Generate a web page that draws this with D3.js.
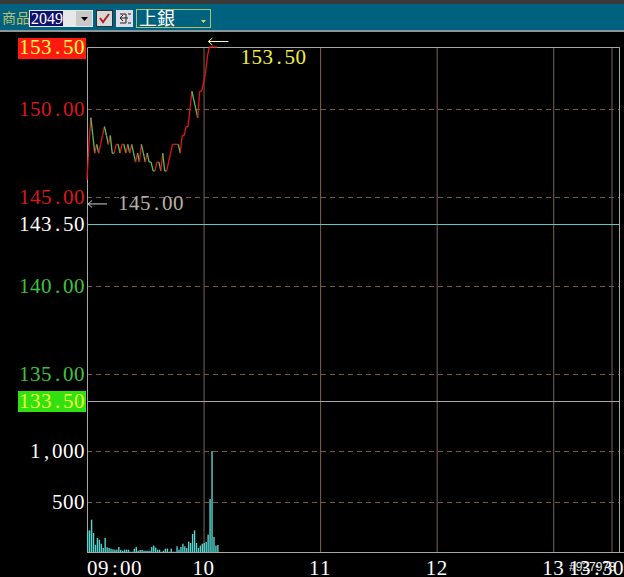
<!DOCTYPE html>
<html>
<head>
<meta charset="utf-8">
<script src="https://cdn.jsdelivr.net/npm/d3@7"></script>
<style>
html, body { margin: 0; padding: 0; background: #000; overflow: hidden; }
svg { display: block; }
</style>
</head>
<body>
<div id="chart"></div>
<script>
// one price and one volume per minute, starting 09:00
const prices = [146, 148, 149.5, 148.5, 147.5, 148, 147.5, 148, 148.5, 149,
    148.5, 148, 148.5, 147.5, 147.5, 148, 148, 147.5, 148, 148,
    147.5, 148, 147.5, 148, 147.5, 147, 147.5, 147, 148, 147.5,
    147, 147.5, 147, 147, 146.5, 146.5, 147, 147, 146.5, 147.5,
    146.5, 146.5, 147, 147.5, 148, 148, 148, 148, 147.5, 148.5,
    148.5, 149, 149, 150, 151, 150.5, 150, 149.5, 151, 151,
    151.5, 152, 153, 153.5, 153.5, 153.5, 153.5, 153.5];
const volumes = [214, 214, 320, 188, 72, 138, 122, 82, 40, 138,
    46, 40, 33, 26, 23, 23, 50, 20, 13, 23,
    23, 23, 3, 3, 33, 50, 13, 20, 20, 13,
    13, 13, 13, 50, 63, 43, 23, 23, 3, 13,
    33, 33, 3, 33, 3, 3, 56, 23, 50, 82,
    56, 40, 102, 89, 178, 214, 89, 40, 63, 82,
    89, 100, 172, 525, 1000, 148, 63, 70];
const priceTicks = [150, 145, 140, 135];
const volumeTicks = [1000, 500];
const refPrice = 143.5, highLimit = 153.5, lowLimit = 133.5, lowPrice = 145;
const hourTicks = [10, 11, 12, 13];

const width = 624, height = 577;
const font = "'Liberation Serif', serif";

const svg = d3.select("#chart").append("svg")
    .attr("width", width).attr("height", height)
    .attr("viewBox", [0, 0, width, height]);

const t0 = new Date(2000, 0, 1, 9, 0);
const at = (h, m) => new Date(2000, 0, 1, h, m);
const minute = i => d3.timeMinute.offset(t0, i);

// 09:00 at the left frame, 13:30 on the last grid line
const x = d3.scaleTime().domain([t0, at(13, 30)]).range([87, 611.5]);
const y = d3.scaleLinear().domain([lowLimit, highLimit]).range([401, 47]);
const yVol = d3.scaleLinear().domain([0, 1000]).range([552, 451]);

// writes text with every character in a fixed cell, like the terminal font
function label(txt, xEnd, yMid, color, size = 21, cell = 11) {
    const xs = Array.from(txt, (c, i) =>
        xEnd - cell * (txt.length - i) + (".,:".includes(c) ? 3 : 0));
    return svg.append("text")
        .text(txt)
        .attr("x", xs.join(" "))
        .attr("y", yMid + 7)
        .attr("font-family", font)
        .attr("font-size", size)
        .attr("fill", color);
}

// toolbar
svg.append("rect").attr("width", width).attr("height", 4).attr("fill", "#3a3a3a");
svg.append("rect").attr("y", 4).attr("width", width).attr("height", 26).attr("fill", "#00627f");
svg.append("rect").attr("y", 30).attr("width", width).attr("height", 2).attr("fill", "#8c9698");

svg.append("text").text("商品")
    .attr("x", 2).attr("y", 23)
    .attr("font-family", "'Noto Sans CJK TC'").attr("font-size", 14).attr("fill", "#b8c070");

svg.append("rect").attr("x", 29).attr("y", 10).attr("width", 64).attr("height", 17).attr("fill", "#e8e8e8");
svg.append("rect").attr("x", 30).attr("y", 11).attr("width", 33).attr("height", 15).attr("fill", "#101070");
svg.append("text").text("2049")
    .attr("x", 31).attr("y", 24)
    .attr("font-family", font).attr("font-size", 16).attr("fill", "#fff");
svg.append("rect").attr("x", 76).attr("y", 11).attr("width", 16).attr("height", 15).attr("fill", "#c8c8c8");
svg.append("path").attr("d", "M81 17h7l-3.5 4z").attr("fill", "#000");

svg.append("rect").attr("x", 96.5).attr("y", 10.5).attr("width", 16).attr("height", 16)
    .attr("fill", "#d8d8d8").attr("stroke", "#303030");
svg.append("path").attr("d", "M100 18l3 4 6-8").attr("fill", "none")
    .attr("stroke", "#b02020").attr("stroke-width", 2);
svg.append("rect").attr("x", 116).attr("y", 10).attr("width", 17).attr("height", 17).attr("fill", "#e0dce8");
svg.append("path").attr("d", "M120 14h6v9h-6M128 18h-8M123 15l-3 3 3 3M128 14h3M128 23h3")
    .attr("fill", "none").attr("stroke", "#202020");

svg.append("rect").attr("x", 136.5).attr("y", 9.5).attr("width", 74).attr("height", 18)
    .attr("fill", "none").attr("stroke", "#b0c070");
svg.append("text").text("上銀")
    .attr("x", 139).attr("y", 25)
    .attr("font-family", "'Noto Sans CJK TC'").attr("font-size", 18).attr("fill", "#fff");
svg.append("path").attr("d", "M201 20h5l-2.5 3z").attr("fill", "#d8d860");

// grid
const gridColor = "#7d6350", dashColor = "#75584a";
svg.append("g").selectAll("line")
    .data(hourTicks.map(h => at(h, 0)).concat([at(13, 30)]))
    .join("line")
    .attr("x1", d => x(d) + 0.5).attr("x2", d => x(d) + 0.5)
    .attr("y1", 47).attr("y2", 552)
    .attr("stroke", gridColor);

const dashes = priceTicks.map(y).concat(volumeTicks.map(yVol));
svg.append("g").selectAll("line")
    .data(dashes)
    .join("line")
    .attr("x1", 87).attr("x2", 619)
    .attr("y1", d => Math.round(d) + 0.5).attr("y2", d => Math.round(d) + 0.5)
    .attr("stroke", dashColor).attr("stroke-dasharray", "5,4");

// frame and limit lines
const frameColor = "#a8a8a8";
svg.append("path")
    .attr("d", "M87.5 552V47.5H619.5V552")
    .attr("fill", "none").attr("stroke", frameColor);
svg.append("line").attr("x1", 87).attr("x2", 624).attr("y1", 552.5).attr("y2", 552.5).attr("stroke", frameColor);
svg.append("line").attr("x1", 87).attr("x2", 619).attr("y1", y(lowLimit) + 0.5).attr("y2", y(lowLimit) + 0.5).attr("stroke", frameColor);
svg.append("line").attr("x1", 87).attr("x2", 619).attr("y1", y(refPrice) + 0.5).attr("y2", y(refPrice) + 0.5).attr("stroke", "#5fc8c0");

// price line, red going up and green going down
let trend = "#e01818";
prices.slice(1).forEach((p, i) => {
    if (p > prices[i]) trend = "#e01818";
    if (p < prices[i]) trend = "#58c058";
    svg.append("line")
        .attr("x1", x(minute(i))).attr("x2", x(minute(i + 1)))
        .attr("y1", y(prices[i])).attr("y2", y(p))
        .attr("stroke", trend)
        .attr("stroke-width", 1.3);
});

// volume bars
svg.append("g").selectAll("rect")
    .data(volumes)
    .join("rect")
    .attr("x", (d, i) => x(minute(i)))
    .attr("width", 1.4)
    .attr("y", d => yVol(d))
    .attr("height", d => yVol(0) - yVol(d))
    .attr("fill", "#55d4d0");

// y labels
svg.append("rect").attr("x", 18).attr("y", 38).attr("width", 68).attr("height", 21).attr("fill", "#ff1a10");
svg.append("rect").attr("x", 18).attr("y", 391).attr("width", 68).attr("height", 21).attr("fill", "#30e010");
label(highLimit.toFixed(2), 85, y(highLimit), "#ffff50");
label(lowLimit.toFixed(2), 85, y(lowLimit), "#e8ff40");
label(refPrice.toFixed(2), 85, y(refPrice), "#ffffff");
priceTicks.forEach(p => label(p.toFixed(2), 85, y(p), p > refPrice ? "#d81818" : "#40c040"));
volumeTicks.forEach(v => label(d3.format(",")(v), 85, yVol(v), "#ffffff"));

// high and low markers
const iHigh = prices.indexOf(highLimit);
const highX = x(minute(iHigh));
svg.append("path")
    .attr("d", `M${highX - 1} 41.5h20M${highX + 3} 38l-4 3.5 4 3.5`)
    .attr("fill", "none").attr("stroke", "#ffffb0");
label(highLimit.toFixed(2), highX + 97, 57, "#f0f040");
svg.append("path")
    .attr("d", `M${x(t0) + 1} ${y(lowPrice) + 6.5}h19M${x(t0) + 5} ${y(lowPrice) + 3}l-4 3.5 4 3.5`)
    .attr("fill", "none").attr("stroke", "#d0d0d0");
label(lowPrice.toFixed(2), 184, 203, "#b8b0a4");

// time labels
label("09:00", x(t0) + 55, 568, "#ffffff");
hourTicks.forEach(h => label(String(h), x(at(h, 0)) + 11, 568, "#ffffff"));
label("13:30", 624, 568, "#ffffff");
svg.append("text").text("#927978")
    .attr("x", 569).attr("y", 571)
    .attr("font-family", "'Liberation Sans', sans-serif").attr("font-size", 12).attr("fill", "#e8e8e8");
</script>
</body>
</html>
